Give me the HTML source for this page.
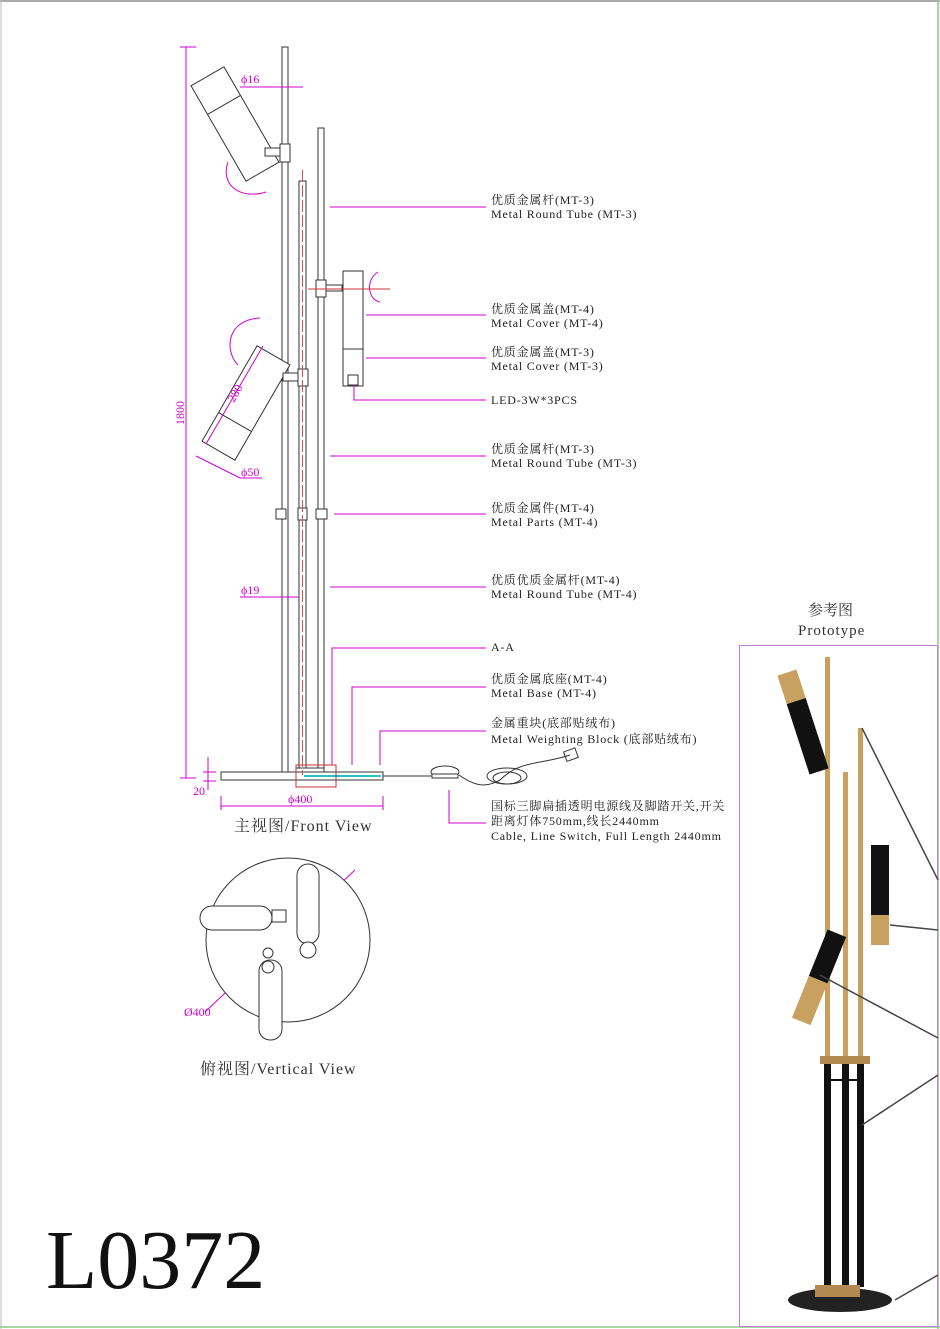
<!DOCTYPE html>
<html><head><meta charset="utf-8"><style>
html,body{margin:0;padding:0;background:#fff}
svg{display:block}
text{font-family:"Liberation Serif","Noto Serif CJK SC","Noto Sans CJK SC",serif}
.l{font-size:12px;fill:#222;letter-spacing:0.8px}
.m{fill:#d000d0;font-size:12px}
</style></head><body>
<svg width="940" height="1329" viewBox="0 0 940 1329" xmlns="http://www.w3.org/2000/svg">
<rect x="0" y="0" width="940" height="1329" fill="#fff"/>
<line x1="0" y1="1" x2="940" y2="1" stroke="#555" stroke-width="1"/>
<line x1="1" y1="0" x2="1" y2="1329" stroke="#bbb"/>
<line x1="0" y1="1327" x2="940" y2="1327" stroke="#8c8" stroke-width="1.5"/>
<line x1="938" y1="0" x2="938" y2="1329" stroke="#8c8" stroke-width="1.5"/>

<g stroke="#333" fill="#fff" stroke-width="1">
<rect x="282" y="47" width="6" height="725"/>
<rect x="299" y="181" width="7" height="591"/>
<rect x="318" y="128" width="6" height="644"/>
<g transform="translate(235,124) rotate(-30)"><rect x="-19" y="-55" width="38" height="110"/><line x1="-19" y1="-22" x2="19" y2="-22"/></g>
<rect x="280" y="144" width="10" height="18"/>
<rect x="265" y="148" width="15" height="8"/>
<g transform="translate(246,403) rotate(30)"><rect x="-19" y="-55" width="38" height="110"/><line x1="-19" y1="22" x2="19" y2="22"/></g>
<rect x="298" y="369" width="10" height="17"/>
<rect x="283" y="373" width="15" height="8"/>
<rect x="343" y="271" width="20" height="115"/>
<line x1="343" y1="349" x2="363" y2="349"/>
<rect x="348" y="375" width="10" height="10"/>
<rect x="316" y="280" width="10" height="17"/>
<rect x="326" y="285" width="16" height="6"/>
<rect x="276" y="509" width="10" height="10"/>
<rect x="298" y="508" width="9" height="12"/>
<rect x="316" y="509" width="11" height="10"/>
<rect x="221" y="772" width="162" height="8"/>
<rect x="296" y="768" width="28" height="4"/>
<line x1="383" y1="776" x2="438" y2="776"/>
<ellipse cx="445" cy="772" rx="14" ry="6"/>
<rect x="432" y="774" width="26" height="4"/>
</g>
<line x1="304" y1="776" x2="381" y2="776" stroke="#29c5c5" stroke-width="2"/>
<rect x="296" y="765" width="40" height="22" fill="none" stroke="#c33" stroke-width="1"/>
<line x1="302.5" y1="170" x2="302.5" y2="775" stroke="#c55" stroke-width="1" stroke-dasharray="12,3"/>
<line x1="308" y1="289" x2="390" y2="289" stroke="#c33" stroke-width="1"/>
<path d="M459,775 C480,790 490,785 500,780 C520,760 540,765 570,755" fill="none" stroke="#333"/>
<ellipse cx="507" cy="776" rx="20" ry="8" fill="none" stroke="#333"/>
<ellipse cx="507" cy="778" rx="14" ry="6" fill="none" stroke="#333"/>
<rect x="565" y="750" width="12" height="10" fill="none" stroke="#333" transform="rotate(-20 570 755)"/>

<g stroke="#d000d0" fill="none" stroke-width="1">
<line x1="186" y1="47" x2="186" y2="778"/><line x1="180" y1="47" x2="196" y2="47"/><line x1="180" y1="778" x2="196" y2="778"/>
<line x1="208" y1="757" x2="208" y2="790"/><line x1="203" y1="772" x2="216" y2="772"/><line x1="203" y1="781" x2="216" y2="781"/>
<line x1="221" y1="806" x2="383" y2="806"/><line x1="221" y1="796" x2="221" y2="810"/><line x1="383" y1="796" x2="383" y2="810"/>
<line x1="240" y1="87" x2="303" y2="87"/>
<line x1="240" y1="597" x2="299" y2="597"/>
<line x1="206" y1="444" x2="263" y2="346"/>
<line x1="196" y1="456" x2="240" y2="478"/><line x1="240" y1="478" x2="262" y2="478"/>
<path d="M228,162 C220,185 240,200 266,192"/>
<path d="M260,318 C225,320 225,352 238,365"/>
<path d="M378,272 C365,280 368,300 380,302"/>
<line x1="330" y1="207" x2="486" y2="207"/>
<line x1="366" y1="315" x2="486" y2="315"/>
<line x1="366" y1="358" x2="486" y2="358"/>
<polyline points="354,385 354,400 486,400"/>
<line x1="330" y1="456" x2="486" y2="456"/>
<line x1="334" y1="514" x2="486" y2="514"/>
<line x1="330" y1="587" x2="486" y2="587"/>
<polyline points="332,765 332,648 486,648"/>
<polyline points="352,765 352,687 486,687"/>
<polyline points="380,765 380,731 486,731"/>
<polyline points="449,790 449,823 486,823"/>
<line x1="205" y1="1012" x2="355" y2="870"/>
</g>
<text class="m" x="241" y="83">ϕ16</text>
<text class="m" x="241" y="594">ϕ19</text>
<text class="m" x="241" y="476">ϕ50</text>
<text class="m" transform="translate(234,403) rotate(-60)">280</text>
<text class="m" transform="translate(184,425) rotate(-90)">1800</text>
<text class="m" x="193" y="795">20</text>
<text class="m" x="288" y="803">ϕ400</text>
<text class="m" x="184" y="1016">Ø400</text>

<g class="l">
<text x="491" y="204">优质金属杆(MT-3)</text><text x="491" y="218">Metal Round Tube (MT-3)</text>
<text x="491" y="313">优质金属盖(MT-4)</text><text x="491" y="327">Metal Cover (MT-4)</text>
<text x="491" y="356">优质金属盖(MT-3)</text><text x="491" y="370">Metal Cover (MT-3)</text>
<text x="491" y="404">LED-3W*3PCS</text>
<text x="491" y="453">优质金属杆(MT-3)</text><text x="491" y="467">Metal Round Tube (MT-3)</text>
<text x="491" y="512">优质金属件(MT-4)</text><text x="491" y="526">Metal Parts (MT-4)</text>
<text x="491" y="584">优质优质金属杆(MT-4)</text><text x="491" y="598">Metal Round Tube (MT-4)</text>
<text x="491" y="651">A-A</text>
<text x="491" y="683">优质金属底座(MT-4)</text><text x="491" y="697">Metal Base (MT-4)</text>
<text x="491" y="727">金属重块(底部贴绒布)</text><text x="491" y="743">Metal Weighting Block (底部贴绒布)</text>
<text x="491" y="810">国标三脚扁插透明电源线及脚踏开关,开关</text>
<text x="491" y="825">距离灯体750mm,线长2440mm</text>
<text x="491" y="840">Cable, Line Switch, Full Length 2440mm</text>
</g>
<text x="234" y="831" font-size="16" fill="#333" letter-spacing="1">主视图/Front View</text>
<text x="200" y="1074" font-size="16" fill="#333" letter-spacing="1">俯视图/Vertical View</text>
<text x="808" y="615" font-size="15" fill="#333">参考图</text>
<text x="798" y="635" font-size="15" fill="#333" letter-spacing="1">Prototype</text>
<text x="46" y="1288" font-size="84" fill="#111">L0372</text>

<g stroke="#333" fill="#fff" stroke-width="1">
<circle cx="288" cy="940" r="82"/>
<rect x="200" y="906" width="72" height="24" rx="12"/>
<rect x="272" y="910" width="14" height="12"/>
<rect x="297" y="864" width="22" height="80" rx="11"/>
<rect x="259" y="960" width="23" height="80" rx="11"/>
<circle cx="268" cy="953" r="5"/>
<circle cx="308" cy="950" r="8"/>
<circle cx="268" cy="967" r="6"/>
</g>

<rect x="739.5" y="645.5" width="198" height="681" fill="#fff" stroke="#c080d0"/>
<g>
<rect x="825" y="657" width="5" height="405" fill="#c8a060"/>
<rect x="843" y="772" width="5" height="290" fill="#c8a060"/>
<rect x="858" y="728" width="5" height="334" fill="#c8a060"/>
<rect x="824" y="1062" width="7" height="225" fill="#111"/>
<rect x="842" y="1062" width="7" height="225" fill="#111"/>
<rect x="857" y="1062" width="7" height="225" fill="#111"/>
<rect x="820" y="1056" width="50" height="8" fill="#b08a50"/>
<line x1="830" y1="1080" x2="860" y2="1080" stroke="#111" stroke-width="2"/>
<g transform="translate(803,722) rotate(-18)"><rect x="-10" y="-52" width="20" height="30" fill="#c8a060"/><rect x="-10" y="-22" width="20" height="74" fill="#111"/></g>
<g transform="translate(880,895)"><rect x="-9" y="-50" width="18" height="70" fill="#111"/><rect x="-9" y="20" width="18" height="30" fill="#c8a060"/></g>
<g transform="translate(820,975) rotate(22)"><rect x="-10" y="-45" width="20" height="50" fill="#111"/><rect x="-10" y="5" width="20" height="45" fill="#c8a060"/></g>
<ellipse cx="840" cy="1300" rx="52" ry="12" fill="#222"/>
<rect x="815" y="1285" width="45" height="12" fill="#b08a50"/>
<g stroke="#444" stroke-width="1.5">
<line x1="862" y1="728" x2="938" y2="880"/>
<line x1="890" y1="925" x2="938" y2="930"/>
<line x1="820" y1="975" x2="938" y2="1038"/>
<line x1="862" y1="1125" x2="938" y2="1075"/>
<line x1="895" y1="1300" x2="938" y2="1275"/>
</g>
</g>
</svg>
</body></html>
